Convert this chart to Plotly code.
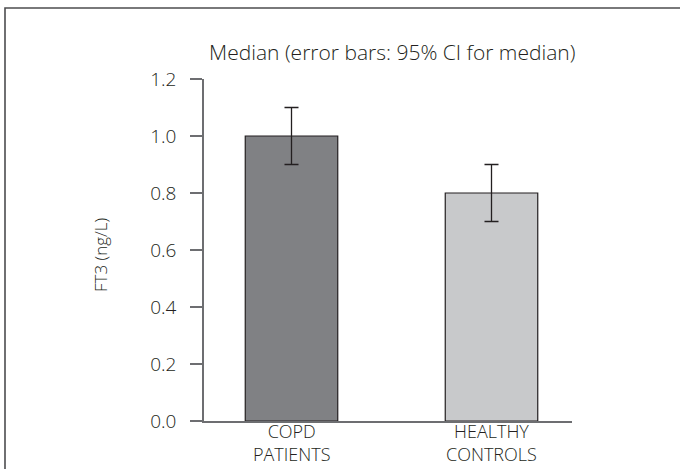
import plotly.graph_objects as go

category_labels = ["COPD<br>PATIENTS", "HEALTHY<br>CONTROLS"]
medians = [1.0, 0.8]
ci_upper = [1.1, 0.9]
ci_lower = [0.9, 0.7]
bar_colors = ["#808184", "#c8c9cb"]
y_ticks = [0.0, 0.2, 0.4, 0.6, 0.8, 1.0, 1.2]
y_tick_text = ["0.0", "0.2", "0.4", "0.6", "0.8", "1.0", "1.2"]

font_family = "'Open Sans', Lato, sans-serif"
text_color = "#231f20"
axis_color = "#6d6e71"
FS = 20

x_pos = list(range(len(medians)))

fig = go.Figure()
fig.add_trace(go.Bar(
    x=x_pos,
    y=medians,
    width=0.4625,
    marker=dict(color=bar_colors, line=dict(color="#231f20", width=1.2)),
    error_y=dict(
        type="data",
        symmetric=False,
        array=[u - m for u, m in zip(ci_upper, medians)],
        arrayminus=[m - l for m, l in zip(medians, ci_lower)],
        color="#231f20",
        thickness=1.3,
        width=7,
    ),
    showlegend=False,
    hoverinfo="skip",
))

annotations = [
    dict(text="Median (error bars: 95% CI for median)", xref="paper", yref="paper",
         x=0.5, xshift=4, y=1.0, yshift=27, xanchor="center", yanchor="middle",
         showarrow=False, font=dict(size=21, weight=300, color=text_color)),
    dict(text="FT3 (ng/L)", xref="paper", yref="paper",
         x=0, xshift=-104, y=0.5, yshift=-5, xanchor="center", yanchor="middle",
         textangle=-90, showarrow=False, font=dict(size=17, weight=300, color=text_color)),
]
for xi, lab in zip(x_pos, category_labels):
    annotations.append(dict(text=lab, xref="x", yref="paper", x=xi, y=0, yshift=-47,
                            xanchor="center", yanchor="bottom", showarrow=False,
                            font=dict(size=18, weight=300, color=text_color)))

fig.update_layout(
    width=680,
    height=469,
    margin=dict(l=204, r=108, t=79, b=48),
    paper_bgcolor="white",
    plot_bgcolor="white",
    font=dict(family=font_family, color=text_color, size=FS, weight=300),
    xaxis=dict(
        range=[-0.4375, 1.4025],
        tickmode="array",
        tickvals=x_pos,
        showticklabels=False,
        showline=True,
        linecolor=axis_color,
        linewidth=1.5,
        ticks="",
        showgrid=False,
        zeroline=False,
    ),
    yaxis=dict(
        range=[0, 1.2],
        tickmode="array",
        tickvals=y_ticks,
        ticktext=y_tick_text,
        showline=True,
        linecolor=axis_color,
        linewidth=1.5,
        ticks="outside",
        ticklen=12,
        tickwidth=1.5,
        tickcolor=axis_color,
        showgrid=False,
        zeroline=False,
        tickfont=dict(size=19, weight=300, color=text_color),
        ticklabelstandoff=10,
    ),
    annotations=annotations,
    shapes=[
        dict(type="rect", xref="paper", yref="paper",
             x0=-199 / 368, x1=(680 - 204 + 60) / 368,
             y0=-(48 + 20) / 342, y1=(79 - 8) / 342 + 1,
             line=dict(color="#4d4d4f", width=1.6), layer="below"),
    ],
)

fig.write_html(
    "out.html",
    config={"displayModeBar": False},
    post_script="document.body.style.margin='0';document.body.style.overflow='hidden';",
)
